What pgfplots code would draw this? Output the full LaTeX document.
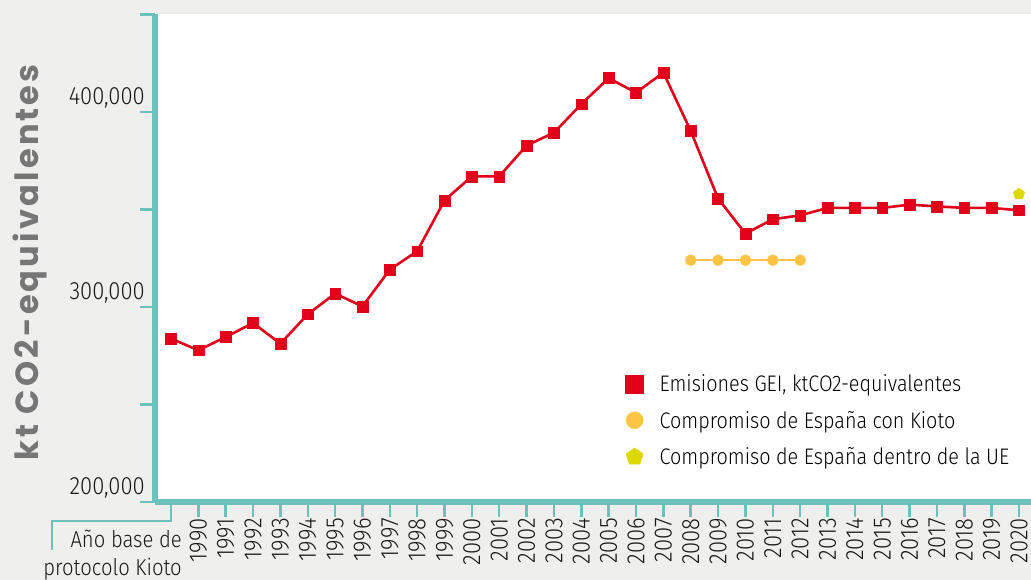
\documentclass[border=0pt]{standalone}
\usepackage{fontspec}
\setmainfont{Fira Sans Light}[FakeStretch=0.88]
\newfontfamily\labfont{Poppins}[LetterSpace=10]
\usepackage{pgfplots}
\pgfplotsset{compat=1.18}
\usetikzlibrary{plotmarks}
\definecolor{bgc}{RGB}{239,239,237}
\definecolor{teal}{RGB}{108,193,188}
\definecolor{redc}{RGB}{226,0,26}
\definecolor{orc}{RGB}{253,195,68}
\definecolor{yelc}{RGB}{221,216,0}
\definecolor{labgrey}{RGB}{118,118,118}
\pgfplotstableread{
x y
0 283800
1 277800
2 284600
3 291800
4 281200
5 296300
6 306900
7 300300
8 319200
9 328600
10 354700
11 367000
12 367000
13 382800
14 389400
15 404000
16 417400
17 409900
18 420200
19 390300
20 355600
21 337600
22 345000
23 347000
24 350800
25 350800
26 350800
27 352500
28 351600
29 350800
30 350800
31 349600
}\emis
\pgfplotstableread{
x y
19 324000
20 324000
21 324000
22 324000
23 324000
}\kioto
\pgfplotstableread{
x y
31 357900
}\ue
\begin{document}
\begin{tikzpicture}[x=1pt,y=1pt]
\fill[bgc] (0,0) rectangle (1031,580);
\begin{axis}[
  at={(155pt,78pt)}, anchor=south west,
  width=876pt, height=487.5pt, scale only axis,
  xmin=-0.585, xmax=31.44, ymin=200000, ymax=450000,
  axis x line*=bottom, axis y line*=left,
  axis line style={teal, line width=6pt, -},
  axis background/.style={fill=white},
  tick align=outside,
  major tick length=15pt,
  tick style={teal, line width=2.5pt},
  xtick={0,...,31},
  xticklabels={,1990,1991,1992,1993,1994,1995,1996,1997,1998,1999,2000,2001,2002,2003,2004,2005,2006,2007,2008,2009,2010,2011,2012,2013,2014,2015,2016,2017,2018,2019,2020},
  xticklabel style={rotate=90, anchor=east, font=\fontsize{25}{25}\selectfont, text=black!90, inner sep=1pt},
  ytick={200000,250000,300000,350000,400000,450000},
  yticklabels={200{,}000,,300{,}000,,400{,}000,},
  yticklabel style={anchor=south east, font=\fontsize{25}{25}\selectfont, text=black!90, inner sep=0pt, xshift=5pt, yshift=4pt},
  ylabel={\labfont\bfseries kt CO2-equivalentes},
  ylabel style={at={(axis description cs:-0.1427,0.492)}, anchor=center, font=\fontsize{32}{32}\selectfont, text=labgrey},
  legend style={draw=none, fill=none, at={(axis description cs:0.537,0.266)}, anchor=north west, font=\fontsize{22.5}{22.5}\selectfont, row sep=14pt, inner sep=0pt, legend cell align=left, /tikz/every odd column/.append style={column sep=14pt}},
  clip=false,
]
\addplot[redc, line width=2.6pt, mark=square*, mark size=5.4pt, mark options={line width=0.4pt}, forget plot] table[x=x,y=y] {\emis};
\addplot[orc, line width=2pt, mark=*, mark size=5.5pt, mark options={line width=0.4pt}, forget plot] table[x=x,y=y] {\kioto};
\addplot[yelc, only marks, mark=pentagon*, mark size=6pt, mark options={line width=0.4pt}, forget plot] table[x=x,y=y] {\ue};
\addlegendimage{only marks, mark=square*, mark size=9pt, color=redc}
\addlegendentry{Emisiones GEI, ktCO2-equivalentes}
\addlegendimage{only marks, mark=*, mark size=8.5pt, color=orc}
\addlegendentry{Compromiso de España con Kioto}
\addlegendimage{only marks, mark=pentagon*, mark size=9pt, color=yelc}
\addlegendentry{Compromiso de España dentro de la UE}
\coordinate (base) at (axis cs:0,200000);
\end{axis}
\draw[teal, line width=2.5pt] ([yshift=-3pt]base) -- ++(0,-16) -- ++(-119,0) -- ++(0,-29);
\node[anchor=north east, align=right, font=\fontsize{23}{28}\selectfont, text=black!90, inner sep=0pt] at ([xshift=11pt,yshift=-28pt]base) {Año base de\\protocolo Kioto};
\pgfresetboundingbox
\useasboundingbox (0,0) rectangle (1031,580);
\end{tikzpicture}
\end{document}
